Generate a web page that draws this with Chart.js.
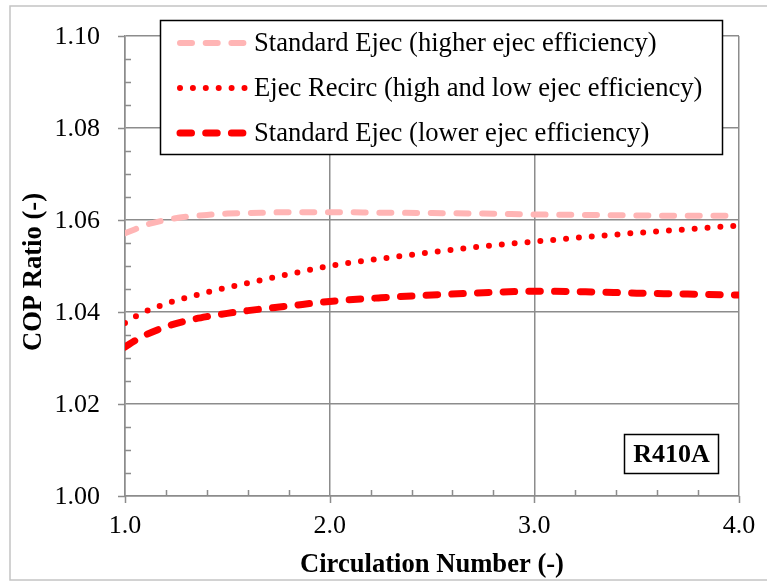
<!DOCTYPE html>
<html>
<head>
<meta charset="utf-8">
<script src="https://cdn.jsdelivr.net/npm/chart.js@4/dist/chart.umd.min.js"></script>
<style>
  html, body { margin: 0; padding: 0; background: #fff; }
  canvas { display: block; }
</style>
</head>
<body>
<canvas id="cop-chart" width="767" height="582"></canvas>
<script>
// circulation number on the x axis
var circulation = [1.0, 1.05, 1.1, 1.2, 1.3, 1.4, 1.5, 1.6, 1.8, 2.0, 2.25, 2.5, 2.75, 3.0, 3.25, 3.5, 3.75, 4.0];

// COP ratio for each cycle
var copStdHigher = [1.0571, 1.0580, 1.0589, 1.0600, 1.0607, 1.0611, 1.0614, 1.0615, 1.0617, 1.0617, 1.0616, 1.0615, 1.0614, 1.0612, 1.0611, 1.0610, 1.0609, 1.0609];
var copRecirc    = [1.0376, 1.0390, 1.0401, 1.0418, 1.0431, 1.0443, 1.0453, 1.0463, 1.0482, 1.0500, 1.0516, 1.0530, 1.0543, 1.0553, 1.0563, 1.0572, 1.0580, 1.0588];
var copStdLower  = [1.0324, 1.0338, 1.0350, 1.0368, 1.0381, 1.0390, 1.0397, 1.0403, 1.0413, 1.0423, 1.0431, 1.0437, 1.0442, 1.0445, 1.0444, 1.0441, 1.0439, 1.0437];

var seriesNames = [
  "Standard Ejec (higher ejec efficiency)",
  "Ejec Recirc (high and low ejec efficiency)",
  "Standard Ejec (lower ejec efficiency)"
];

var xTickValues = [1.0, 2.0, 3.0, 4.0];
var yTickValues = [1.00, 1.02, 1.04, 1.06, 1.08, 1.10];

var refrigerant = "R410A";
var xTitle = "Circulation Number (-)";
var yTitle = "COP Ratio (-)";

var SERIF = '"Liberation Serif", "Times New Roman", serif';
var GRID = '#8c8c8c';

function points(ys) {
  return circulation.map(function (x, i) { return { x: x, y: ys[i] }; });
}

// tick marks and labels, titles, legend box and the refrigerant tag
var decorations = {
  id: 'decorations',
  beforeDraw: function (chart) {
    var ctx = chart.ctx;
    ctx.save();
    ctx.fillStyle = '#fff';
    ctx.fillRect(0, 0, chart.width, chart.height);
    ctx.strokeStyle = '#c4c4c4';
    ctx.lineWidth = 1.5;
    ctx.strokeRect(10, 6, chart.width + 20, 574);
    ctx.restore();
  },
  afterDraw: function (chart) {
    var ctx = chart.ctx;
    var area = chart.chartArea;
    var xs = chart.scales.x, ys = chart.scales.y;
    ctx.save();

    // major ticks outside, minor ticks inside
    ctx.strokeStyle = GRID;
    ctx.lineWidth = 1.5;
    ctx.beginPath();
    for (var i = 0; i <= 20; i++) {
      var py = Math.round(ys.getPixelForValue(1 + i * 0.005)) + 0.5;
      if (i % 4 === 0) { ctx.moveTo(area.left - 7, py); ctx.lineTo(area.left, py); }
      else { ctx.moveTo(area.left, py); ctx.lineTo(area.left + 6, py); }
    }
    for (var j = 0; j <= 15; j++) {
      var px = Math.round(xs.getPixelForValue(1 + j * 0.2)) + 0.5;
      if (j % 5 === 0) { ctx.moveTo(px, area.bottom); ctx.lineTo(px, area.bottom + 7); }
      else { ctx.moveTo(px, area.bottom - 6); ctx.lineTo(px, area.bottom); }
    }
    ctx.stroke();

    // tick labels
    ctx.fillStyle = '#000';
    ctx.font = '26px ' + SERIF;
    ctx.textBaseline = 'middle';
    ctx.textAlign = 'right';
    yTickValues.forEach(function (v) {
      ctx.fillText(v.toFixed(2), area.left - 25, ys.getPixelForValue(v) + 1);
    });
    ctx.textAlign = 'center';
    xTickValues.forEach(function (v) {
      ctx.fillText(v.toFixed(1), xs.getPixelForValue(v), area.bottom + 30);
    });

    // axis titles
    ctx.font = 'bold 26.6px ' + SERIF;
    ctx.fillText(xTitle, (area.left + area.right) / 2, 565);
    ctx.save();
    ctx.translate(34, 272);
    ctx.rotate(-Math.PI / 2);
    ctx.fillText(yTitle, 0, 0);
    ctx.restore();

    // legend box
    ctx.fillStyle = '#fff';
    ctx.fillRect(160, 20, 563, 135);
    ctx.strokeStyle = '#000';
    ctx.lineWidth = 1.5;
    ctx.strokeRect(160.5, 20.5, 562, 134);
    var rows = [43, 88, 133];
    chart.data.datasets.forEach(function (ds, k) {
      ctx.save();
      ctx.strokeStyle = ds.borderColor;
      ctx.lineWidth = ds.borderWidth;
      ctx.lineCap = 'round';
      ctx.setLineDash(ds.borderDash);
      ctx.beginPath();
      ctx.moveTo(180, rows[k]);
      ctx.lineTo(246, rows[k]);
      ctx.stroke();
      ctx.restore();
      ctx.fillStyle = '#000';
      ctx.font = '26.6px ' + SERIF;
      ctx.textAlign = 'left';
      ctx.textBaseline = 'middle';
      ctx.fillText(ds.label, 254, rows[k] + 1);
    });

    // refrigerant tag
    ctx.strokeStyle = '#000';
    ctx.lineWidth = 1.5;
    ctx.strokeRect(624.5, 434.5, 94, 39);
    ctx.fillStyle = '#000';
    ctx.font = 'bold 26px ' + SERIF;
    ctx.textAlign = 'center';
    ctx.textBaseline = 'middle';
    ctx.fillText(refrigerant, 671.5, 455);

    ctx.restore();
  }
};

new Chart(document.getElementById('cop-chart'), {
  type: 'line',
  data: {
    datasets: [
      {
        label: seriesNames[0],
        data: points(copStdHigher),
        borderColor: '#ffb5b5',
        borderWidth: 6,
        borderDash: [12, 13.7],
        borderCapStyle: 'round',
        pointRadius: 0,
        cubicInterpolationMode: 'monotone'
      },
      {
        label: seriesNames[1],
        data: points(copRecirc),
        borderColor: '#ff0000',
        borderWidth: 6,
        borderDash: [0, 12.9],
        borderCapStyle: 'round',
        pointRadius: 0,
        cubicInterpolationMode: 'monotone'
      },
      {
        label: seriesNames[2],
        data: points(copStdLower),
        borderColor: '#ff0000',
        borderWidth: 7,
        borderDash: [11.5, 14.2],
        borderCapStyle: 'round',
        pointRadius: 0,
        cubicInterpolationMode: 'monotone'
      }
    ]
  },
  options: {
    responsive: false,
    devicePixelRatio: 1,
    animation: false,
    layout: {
      padding: { left: 0, top: 36, right: 28, bottom: 0 }
    },
    plugins: {
      legend: { display: false },
      tooltip: { enabled: false }
    },
    scales: {
      x: {
        type: 'linear',
        min: 1,
        max: 4,
        afterBuildTicks: function (scale) {
          scale.ticks = xTickValues.map(function (v) { return { value: v }; });
        },
        afterFit: function (scale) { scale.height = 86; },
        grid: { color: GRID, lineWidth: 1.5, drawTicks: false },
        border: { color: GRID, width: 1.5 },
        ticks: { display: false }
      },
      y: {
        min: 1.0,
        max: 1.1,
        afterBuildTicks: function (scale) {
          scale.ticks = yTickValues.map(function (v) { return { value: v }; });
        },
        afterFit: function (scale) { scale.width = 125; },
        grid: { color: GRID, lineWidth: 1.5, drawTicks: false },
        border: { color: GRID, width: 1.5 },
        ticks: { display: false }
      }
    }
  },
  plugins: [decorations]
});
</script>
</body>
</html>
